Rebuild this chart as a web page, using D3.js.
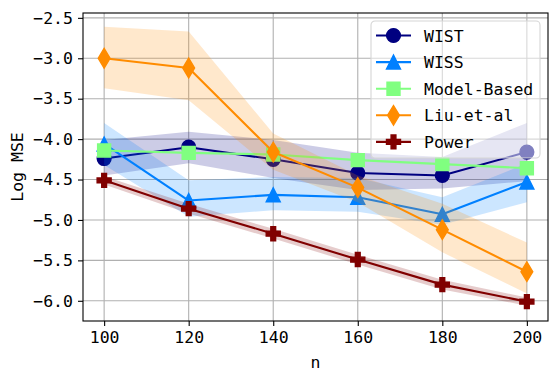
<!DOCTYPE html>
<html>
<head>
<meta charset="utf-8">
<script src="https://cdn.jsdelivr.net/npm/d3@7"></script>
<style>
  body { margin: 0; background: #fff; }
  svg text { font-family: "DejaVu Sans Mono", monospace; }
</style>
</head>
<body>
<svg width="558" height="382"></svg>
<script>
// data
var nValues = [100, 120, 140, 160, 180, 200];
var xTicks = [100, 120, 140, 160, 180, 200];
var yTicks = [-2.5, -3.0, -3.5, -4.0, -4.5, -5.0, -5.5, -6.0];

var wist   = [-4.24, -4.10, -4.25, -4.42, -4.45, -4.16];
var wistLo = [-4.45, -4.30, -4.48, -4.63, -4.61, -4.52];
var wistHi = [-4.01, -3.91, -4.01, -4.17, -4.22, -3.80];

var wiss   = [-4.06, -4.76, -4.69, -4.72, -4.93, -4.53];
var wissLo = [-4.32, -4.96, -4.88, -4.90, -5.06, -4.78];
var wissHi = [-3.80, -4.51, -4.47, -4.48, -4.72, -4.30];

var model  = [-4.14, -4.17, -4.19, -4.26, -4.31, -4.36];

var liu    = [-3.00, -3.12, -4.16, -4.60, -5.12, -5.64];
var liuLo  = [-3.37, -3.52, -4.38, -4.78, -5.40, -5.91];
var liuHi  = [-2.61, -2.67, -3.93, -4.45, -4.80, -5.28];

var power   = [-4.51, -4.86, -5.17, -5.49, -5.80, -6.01];
var powerLo = [-4.56, -4.92, -5.23, -5.55, -5.86, -6.06];
var powerHi = [-4.46, -4.80, -5.11, -5.43, -5.74, -5.96];

var series = [
  {name: "WIST", color: "#000080", marker: "circle", y: wist, lo: wistLo, hi: wistHi},
  {name: "WISS", color: "#0080ff", marker: "triangle", y: wiss, lo: wissLo, hi: wissHi},
  {name: "Model-Based", color: "#80ff80", marker: "square", y: model},
  {name: "Liu-et-al", color: "#ff8c00", marker: "diamond", y: liu, lo: liuLo, hi: liuHi},
  {name: "Power", color: "#800000", marker: "plus", y: power, lo: powerLo, hi: powerHi}
];

var svg = d3.select("svg"),
  margin = {top: 13, right: 10, bottom: 61, left: 83},
  width = +svg.attr("width") - margin.left - margin.right,
  height = +svg.attr("height") - margin.top - margin.bottom;

var x = d3.scaleLinear().domain([95, 205]).range([0, width]);
var y = d3.scaleLinear().domain([-6.25, -2.44]).range([height, 0]);

var g = svg.append("g")
  .attr("transform", "translate(" + margin.left + "," + margin.top + ")");

// grid
g.selectAll(".gx").data(xTicks).enter().append("line")
  .attr("x1", d => x(d)).attr("x2", d => x(d))
  .attr("y1", 0).attr("y2", height)
  .attr("stroke", "#b0b0b0").attr("stroke-width", 1.1);
g.selectAll(".gy").data(yTicks).enter().append("line")
  .attr("y1", d => y(d)).attr("y2", d => y(d))
  .attr("x1", 0).attr("x2", width)
  .attr("stroke", "#b0b0b0").attr("stroke-width", 1.1);

// marker shapes, matplotlib-ish sizes
function markerPath(type) {
  if (type == "circle") return d3.symbol().type(d3.symbolCircle).size(Math.PI * 6.9 * 6.9)();
  if (type == "triangle") return "M0,-7L7,7L-7,7Z";
  if (type == "square") return "M-6.5,-6.5H6.5V6.5H-6.5Z";
  if (type == "diamond") return "M0,-9.8L5.9,0L0,9.8L-5.9,0Z";
  if (type == "plus") {
    var a = 7, b = 2.4;
    return "M" + -b + "," + -a + "H" + b + "V" + -b + "H" + a + "V" + b + "H" + b +
      "V" + a + "H" + -b + "V" + b + "H" + -a + "V" + -b + "H" + -b + "Z";
  }
}

var line = d3.line()
  .x((d, i) => x(nValues[i]))
  .y(d => y(d));

var area = d3.area()
  .x(d => x(d.n))
  .y0(d => y(d.lo))
  .y1(d => y(d.hi));

var plot = g.append("g");

series.forEach(function(s) {
  plot.append("path")
    .datum(s.y)
    .attr("fill", "none")
    .attr("stroke", s.color)
    .attr("stroke-width", 2.1)
    .attr("stroke-linejoin", "round")
    .attr("d", line);

  plot.selectAll(null)
    .data(s.y)
    .enter()
    .append("path")
    .attr("transform", (d, i) => "translate(" + x(nValues[i]) + "," + y(d) + ")")
    .attr("d", markerPath(s.marker))
    .attr("fill", s.color)
    .attr("stroke", s.color)
    .attr("stroke-width", 1.4);

  if (s.lo) {
    var band = nValues.map((n, i) => ({n: n, lo: s.lo[i], hi: s.hi[i]}));
    plot.append("path")
      .datum(band)
      .attr("fill", s.color)
      .attr("fill-opacity", 0.2)
      .attr("d", area);
  }
});

// axes box
g.append("rect")
  .attr("width", width).attr("height", height)
  .attr("fill", "none").attr("stroke", "#000").attr("stroke-width", 1.1);

var xAxis = d3.axisBottom(x).tickValues(xTicks).tickSize(5).tickPadding(5).tickFormat(d3.format("d")),
  yAxis = d3.axisLeft(y).tickValues(yTicks).tickSize(5).tickPadding(5).tickFormat(d3.format(".1f"));

var gx = g.append("g")
  .attr("transform", "translate(0," + height + ")")
  .call(xAxis);
var gy = g.append("g").call(yAxis);

[gx, gy].forEach(function(a) {
  a.select(".domain").remove();
  a.selectAll(".tick line").attr("stroke", "#000").attr("stroke-width", 1.1);
  a.selectAll(".tick text")
    .attr("font-family", "DejaVu Sans Mono, monospace")
    .attr("font-size", 16.5)
    .attr("fill", "#000");
});

//text label for X-axis
svg.append("text")
  .attr("x", margin.left + width / 2)
  .attr("y", 368)
  .style("text-anchor", "middle")
  .attr("font-size", 16.5)
  .text("n");

//text label for Y-axis
svg.append("text")
  .attr("transform", "rotate(-90)")
  .attr("x", 0 - (margin.top + height / 2))
  .attr("y", 23)
  .style("text-anchor", "middle")
  .attr("font-size", 16.5)
  .text("Log MSE");

// legend
var legend = svg.append("g").attr("transform", "translate(371,21)");
legend.append("rect")
  .attr("width", 169).attr("height", 137)
  .attr("rx", 4)
  .attr("fill", "#fff").attr("fill-opacity", 0.5)
  .attr("stroke", "#d6d6d6").attr("stroke-width", 1.1);

var rows = legend.selectAll(".row")
  .data(series)
  .enter()
  .append("g")
  .attr("transform", (d, i) => "translate(0," + (14.5 + i * 26.6) + ")");

rows.append("line")
  .attr("x1", 5).attr("x2", 40)
  .attr("stroke", d => d.color).attr("stroke-width", 2.1);
rows.append("path")
  .attr("transform", "translate(22.5,0)")
  .attr("d", d => markerPath(d.marker))
  .attr("fill", d => d.color)
  .attr("stroke", d => d.color)
  .attr("stroke-width", 1.4);
rows.append("text")
  .attr("x", 53)
  .attr("y", 6)
  .attr("font-size", 16.5)
  .text(d => d.name);
</script>
</body>
</html>
